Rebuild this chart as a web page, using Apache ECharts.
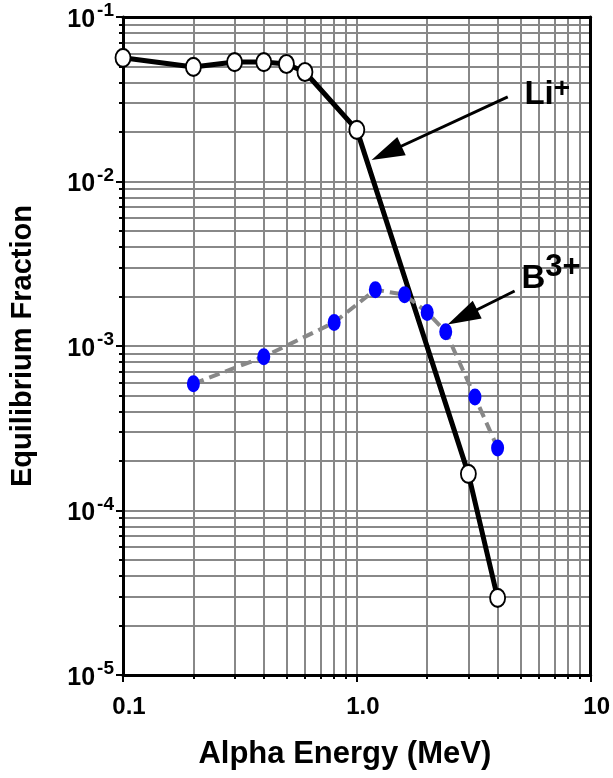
<!DOCTYPE html>
<html>
<head>
<meta charset="utf-8">
<script src="https://cdn.jsdelivr.net/npm/echarts@6/dist/echarts.min.js"></script>
<style>html,body{margin:0;padding:0;background:#fff;}#c{width:613px;height:778px;}</style>
</head>
<body>
<div id="c"></div>
<script>
// ---- data ----
const liEnergy = [0.1, 0.2, 0.3, 0.4, 0.5, 0.6, 1.0, 3.0, 4.0];
const liFraction = [0.0565, 0.0497, 0.0532, 0.0532, 0.0518, 0.0463, 0.0206, 1.67e-4, 2.94e-5];
const bEnergy = [0.2, 0.4, 0.8, 1.2, 1.6, 2.0, 2.4, 3.2, 4.0];
const bFraction = [5.9e-4, 8.6e-4, 1.39e-3, 2.2e-3, 2.05e-3, 1.6e-3, 1.22e-3, 4.9e-4, 2.4e-4];
const xTickValues = [0.1, 1, 10];
const xTickLabels = ['0.1', '1.0', '10'];
const yTickValues = [1e-5, 1e-4, 1e-3, 1e-2, 1e-1];
const yTickExponents = ['-5', '-4', '-3', '-2', '-1'];
// annotation anchors (data space)
const liArrowFrom = [4.42, 0.0327];
const liArrowTo = [1.34, 0.0149];
const bArrowFrom = [4.73, 2.16e-3];
const bArrowTo = [2.83, 1.5e-3];
const liLabelAt = [6.52, 0.0345];
const bLabelAt = [6.77, 2.75e-3];

const FONT = '"Liberation Sans", Arial, Helvetica, sans-serif';
const NARROW = '"Liberation Sans Narrow", "Arial Narrow", "Liberation Sans", Arial, sans-serif';
const zip = (a, b) => a.map((v, i) => [v, b[i]]);

const chart = echarts.init(document.getElementById('c'), null, {renderer: 'canvas'});

const gridLine = {show: true, lineStyle: {color: '#888', width: 2}};
const option = {
  backgroundColor: '#fff',
  animation: false,
  grid: {left: 120, right: 19, top: 17, bottom: 103, containLabel: false},
  xAxis: [{
    type: 'log', logBase: 10, min: 0.1, max: 10,
    axisLine: {show: true, onZero: false, lineStyle: {color: '#000', width: 3}},
    axisTick: {show: true, inside: false, length: 7, lineStyle: {color: '#000', width: 2}},
    minorTick: {show: true, splitNumber: 9, length: 4, lineStyle: {color: '#000', width: 2}},
    splitLine: gridLine,
    minorSplitLine: gridLine,
    axisLabel: {
      margin: 20, color: '#000', fontFamily: NARROW, fontWeight: 'bold', fontSize: 24,
      padding: [0, 0, 0, 12],
      formatter: v => { const i = xTickValues.findIndex(t => Math.abs(Math.log10(t) - Math.log10(v)) < 1e-6); return i >= 0 ? xTickLabels[i] : ''; }
    },
    name: 'Alpha Energy (MeV)', nameLocation: 'middle', nameGap: 64,
    nameTextStyle: {color: '#000', fontFamily: FONT, fontWeight: 'bold', fontSize: 31, padding: [0, 24, 0, 0]}
  }, {
    type: 'log', logBase: 10, min: 0.1, max: 10, position: 'top', z: 5,
    axisLine: {show: true, onZero: false, lineStyle: {color: '#000', width: 3}},
    axisTick: {show: false}, axisLabel: {show: false}, splitLine: {show: false}
  }],
  yAxis: [{
    type: 'log', logBase: 10, min: 1e-5, max: 1e-1,
    axisLine: {show: true, onZero: false, lineStyle: {color: '#000', width: 3}},
    axisTick: {show: true, inside: false, length: 7, lineStyle: {color: '#000', width: 2}},
    minorTick: {show: true, splitNumber: 9, length: 4, lineStyle: {color: '#000', width: 2}},
    splitLine: gridLine,
    minorSplitLine: gridLine,
    axisLabel: {
      margin: 9, color: '#000', fontFamily: NARROW, fontWeight: 'bold',
      formatter: v => { const i = yTickValues.findIndex(t => Math.abs(Math.log10(t) - Math.log10(v)) < 1e-6); return i >= 0 ? '{b|10}{s|' + yTickExponents[i] + '}' : ''; },
      rich: {
        b: {fontFamily: NARROW, fontWeight: 'bold', fontSize: 25, color: '#000', verticalAlign: 'bottom', padding: [0, 2, 0, 0]},
        s: {fontFamily: NARROW, fontWeight: 'bold', fontSize: 19, color: '#000', verticalAlign: 'top', padding: [0, 0, 12, 0]}
      }
    },
    name: 'Equilibrium Fraction', nameLocation: 'middle', nameGap: 86,
    nameTextStyle: {color: '#000', fontFamily: FONT, fontWeight: 'bold', fontSize: 29}
  }, {
    type: 'log', logBase: 10, min: 1e-5, max: 1e-1, position: 'right', z: 5,
    axisLine: {show: true, onZero: false, lineStyle: {color: '#000', width: 3}},
    axisTick: {show: false}, axisLabel: {show: false}, splitLine: {show: false}
  }],
  series: [{
    name: 'Li+', type: 'line', xAxisIndex: 0, yAxisIndex: 0, z: 3,
    data: zip(liEnergy, liFraction),
    lineStyle: {color: '#000', width: 5},
    symbol: 'circle', symbolSize: [15, 18], showAllSymbol: true,
    itemStyle: {color: '#fff', borderColor: '#000', borderWidth: 2},
    markLine: {
      silent: true, symbol: ['none', 'triangle'], symbolSize: [20, 33], z: 6,
      lineStyle: {color: '#000', width: 3, type: 'solid'}, label: {show: false},
      data: [[{coord: liArrowFrom}, {coord: liArrowTo}]]
    },
    markPoint: {
      silent: true, symbol: 'circle', symbolSize: 0,
      label: {
        show: true, position: 'inside', formatter: '{m|Li}{p|+}',
        rich: {
          m: {fontFamily: FONT, fontWeight: 'bold', fontSize: 33, color: '#000', verticalAlign: 'bottom'},
          p: {fontFamily: FONT, fontWeight: 'bold', fontSize: 28, color: '#000', verticalAlign: 'top', padding: [0, 0, 8, 0]}
        }
      },
      data: [{coord: liLabelAt}]
    }
  }, {
    name: 'B3+', type: 'line', xAxisIndex: 0, yAxisIndex: 0, z: 4,
    data: zip(bEnergy, bFraction),
    lineStyle: {color: '#888', width: 4, type: [11, 6]},
    symbol: 'circle', symbolSize: [13, 17], showAllSymbol: true,
    itemStyle: {color: '#0000ff', borderWidth: 0},
    markLine: {
      silent: true, symbol: ['none', 'triangle'], symbolSize: [20, 33], z: 6,
      lineStyle: {color: '#000', width: 3, type: 'solid'}, label: {show: false},
      data: [[{coord: bArrowFrom}, {coord: bArrowTo}]]
    },
    markPoint: {
      silent: true, symbol: 'circle', symbolSize: 0,
      label: {
        show: true, position: 'inside', formatter: '{m|B}{p|3+}',
        rich: {
          m: {fontFamily: FONT, fontWeight: 'bold', fontSize: 33, color: '#000', verticalAlign: 'bottom'},
          p: {fontFamily: FONT, fontWeight: 'bold', fontSize: 31, color: '#000', verticalAlign: 'top', padding: [0, 0, 12, 0]}
        }
      },
      data: [{coord: bLabelAt}]
    }
  }]
};
chart.setOption(option);
</script>
</body>
</html>
